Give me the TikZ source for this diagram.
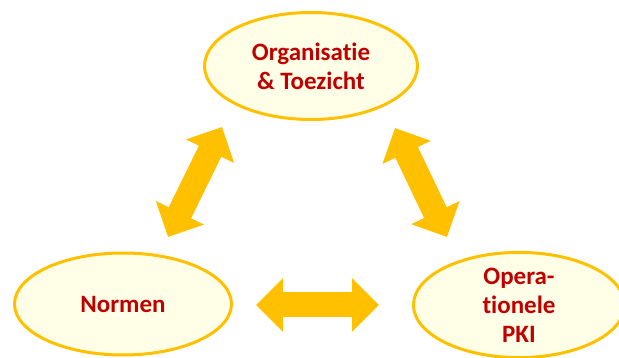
\documentclass[tikz,border=0pt]{standalone}
\usepackage{fontspec}
\setmainfont{Carlito}[Ligatures=NoCommon]
\usetikzlibrary{arrows.meta,shapes.geometric}
\definecolor{gold}{RGB}{255,192,0}
\definecolor{pale}{RGB}{255,255,232}
\definecolor{darkred}{RGB}{192,0,0}
\begin{document}
\begin{tikzpicture}[x=1pt,y=-1pt,
  topic/.style={ellipse, draw=gold, line width=3pt, fill=pale,
    inner sep=0pt, text=darkred, font=\fontsize{25}{29}\selectfont\bfseries, align=center},
  bigarrow/.style={draw=gold, line width=25pt,
    {Triangle[width=52pt,length=27pt,fill=gold]}-{Triangle[width=52pt,length=27pt,fill=gold]}}]
\useasboundingbox (0,0) rectangle (619,358);
\node[topic, minimum width=213pt, minimum height=107pt] (org) at (311,66) {Organisatie\\\& Toezicht};
\node[topic, minimum width=217pt, minimum height=102pt] (norm) at (123,304) {Normen};
\node[topic, minimum width=211pt, minimum height=102pt] (pki) at (519,305) {Opera-\\tionele\\PKI};
\coordinate (l1) at (222,127);
\coordinate (l2) at (168,237);
\coordinate (r1) at (395,128);
\coordinate (r2) at (447,237);
\coordinate (h1) at (256,305);
\coordinate (h2) at (379,305);
\draw[bigarrow] (l2) -- (l1);
\draw[bigarrow] (r1) -- (r2);
\draw[bigarrow] (h1) -- (h2);
\end{tikzpicture}
\end{document}
